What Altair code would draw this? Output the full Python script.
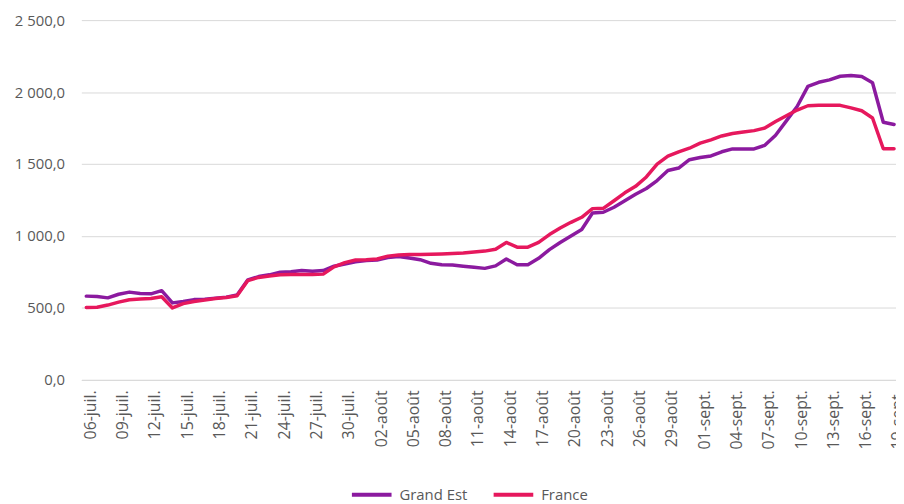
import json
import altair as alt
import pandas as pd

# ---- data ----
month_fr = {7: "juil.", 8: "août", 9: "sept."}
dates = [f"{d.day:02d}-{month_fr[d.month]}" for d in pd.date_range("2020-07-06", "2020-09-19")]

tick_labels = ["06-juil.", "09-juil.", "12-juil.", "15-juil.", "18-juil.", "21-juil.",
               "24-juil.", "27-juil.", "30-juil.", "02-août", "05-août", "08-août",
               "11-août", "14-août", "17-août", "20-août", "23-août", "26-août",
               "29-août", "01-sept.", "04-sept.", "07-sept.", "10-sept.", "13-sept.",
               "16-sept.", "19-sept."]

grand_est = [582, 580, 570, 595, 610, 600, 598, 620, 535, 545,
             558, 560, 568, 575, 590, 695, 718, 730, 748, 752,
             760, 755, 760, 790, 805, 820, 830, 833, 850, 858,
             847, 835, 810, 800, 798, 790, 783, 775, 792, 840,
             800, 800, 845, 905, 955, 1000, 1045, 1160, 1165, 1200,
             1245, 1290, 1330, 1385, 1455, 1472, 1530, 1545, 1556, 1585,
             1605, 1605, 1605, 1630, 1700, 1800, 1900, 2040, 2068, 2085,
             2110, 2115, 2108, 2065, 1790, 1775]

france = [503, 505, 520, 540, 557, 562, 565, 578, 500, 530,
          545, 555, 565, 572, 585, 690, 712, 722, 730, 732,
          733, 733, 735, 785, 815, 833, 835, 840, 860, 868,
          872, 872, 873, 875, 878, 882, 888, 895, 908, 955,
          922, 922, 955, 1010, 1055, 1095, 1130, 1190, 1192, 1245,
          1300, 1345, 1410, 1500, 1555, 1585, 1610, 1645, 1668, 1695,
          1712, 1722, 1732, 1750, 1795, 1835, 1875, 1905, 1908, 1908,
          1908, 1890, 1870, 1820, 1606, 1606]

series_names = ["Grand Est", "France"]
series_colors = ["#8b1a9f", "#e6185d"]
y_ticks = [0, 500, 1000, 1500, 2000, 2500]

rows = []
for name, vals in zip(series_names, [grand_est, france]):
    for i, (d, v) in enumerate(zip(dates, vals)):
        rows.append({"day": i, "date": d, "serie": name, "value": v})
df = pd.DataFrame(rows)

FONT = "Open Sans"
GREY = "#595959"

x_label_expr = json.dumps(tick_labels, ensure_ascii=False) + "[round(datum.value / 3)]"
y_label_expr = "replace(replace(format(datum.value, ',.1f'), ',', ' '), '.', ',')"

chart = (
    alt.Chart(df)
    .mark_line(strokeWidth=3.5, strokeJoin="round", strokeCap="round")
    .encode(
        x=alt.X(
            "day:Q",
            scale=alt.Scale(domain=[-0.46, 75.18], nice=False, zero=False),
            axis=alt.Axis(
                values=list(range(0, 76, 3)),
                labelExpr=x_label_expr,
                labelAngle=-90,
                labelOffset=4,
                grid=False,
                ticks=False,
                tickSize=0,
                domain=True,
                domainColor="#d9d9d9",
                labelPadding=10,
                labelFontSize=16,
                labelFont=FONT,
                labelColor=GREY,
                labelOverlap=False,
                title=None,
            ),
        ),
        y=alt.Y(
            "value:Q",
            scale=alt.Scale(domain=[0, 2500], nice=False),
            axis=alt.Axis(
                values=y_ticks,
                labelExpr=y_label_expr,
                grid=True,
                gridColor="#d9d9d9",
                gridWidth=1,
                domain=False,
                ticks=False,
                tickSize=0,
                labelPadding=17,
                labelFontSize=15,
                labelFont=FONT,
                labelColor=GREY,
                title=None,
            ),
        ),
        color=alt.Color(
            "serie:N",
            sort=series_names,
            scale=alt.Scale(domain=series_names, range=series_colors),
            legend=alt.Legend(
                orient="none",
                legendX=271,
                legendY=457,
                direction="horizontal",
                title=None,
                symbolType="stroke",
                symbolSize=1600,
                symbolStrokeWidth=4,
                labelFontSize=15,
                labelFont=FONT,
                labelColor=GREY,
                labelOffset=6,
                columnPadding=18,
            ),
        ),
        order=alt.Order("day:Q"),
    )
    .properties(
        width=822,
        height=363,
        autosize=alt.AutoSizeParams(type="none"),
        padding={"left": 74, "top": 10, "right": 0, "bottom": 123},
        background="white",
    )
    .configure_view(stroke=None)
)

chart.save("out.html", embed_options={"renderer": "svg", "actions": False})
